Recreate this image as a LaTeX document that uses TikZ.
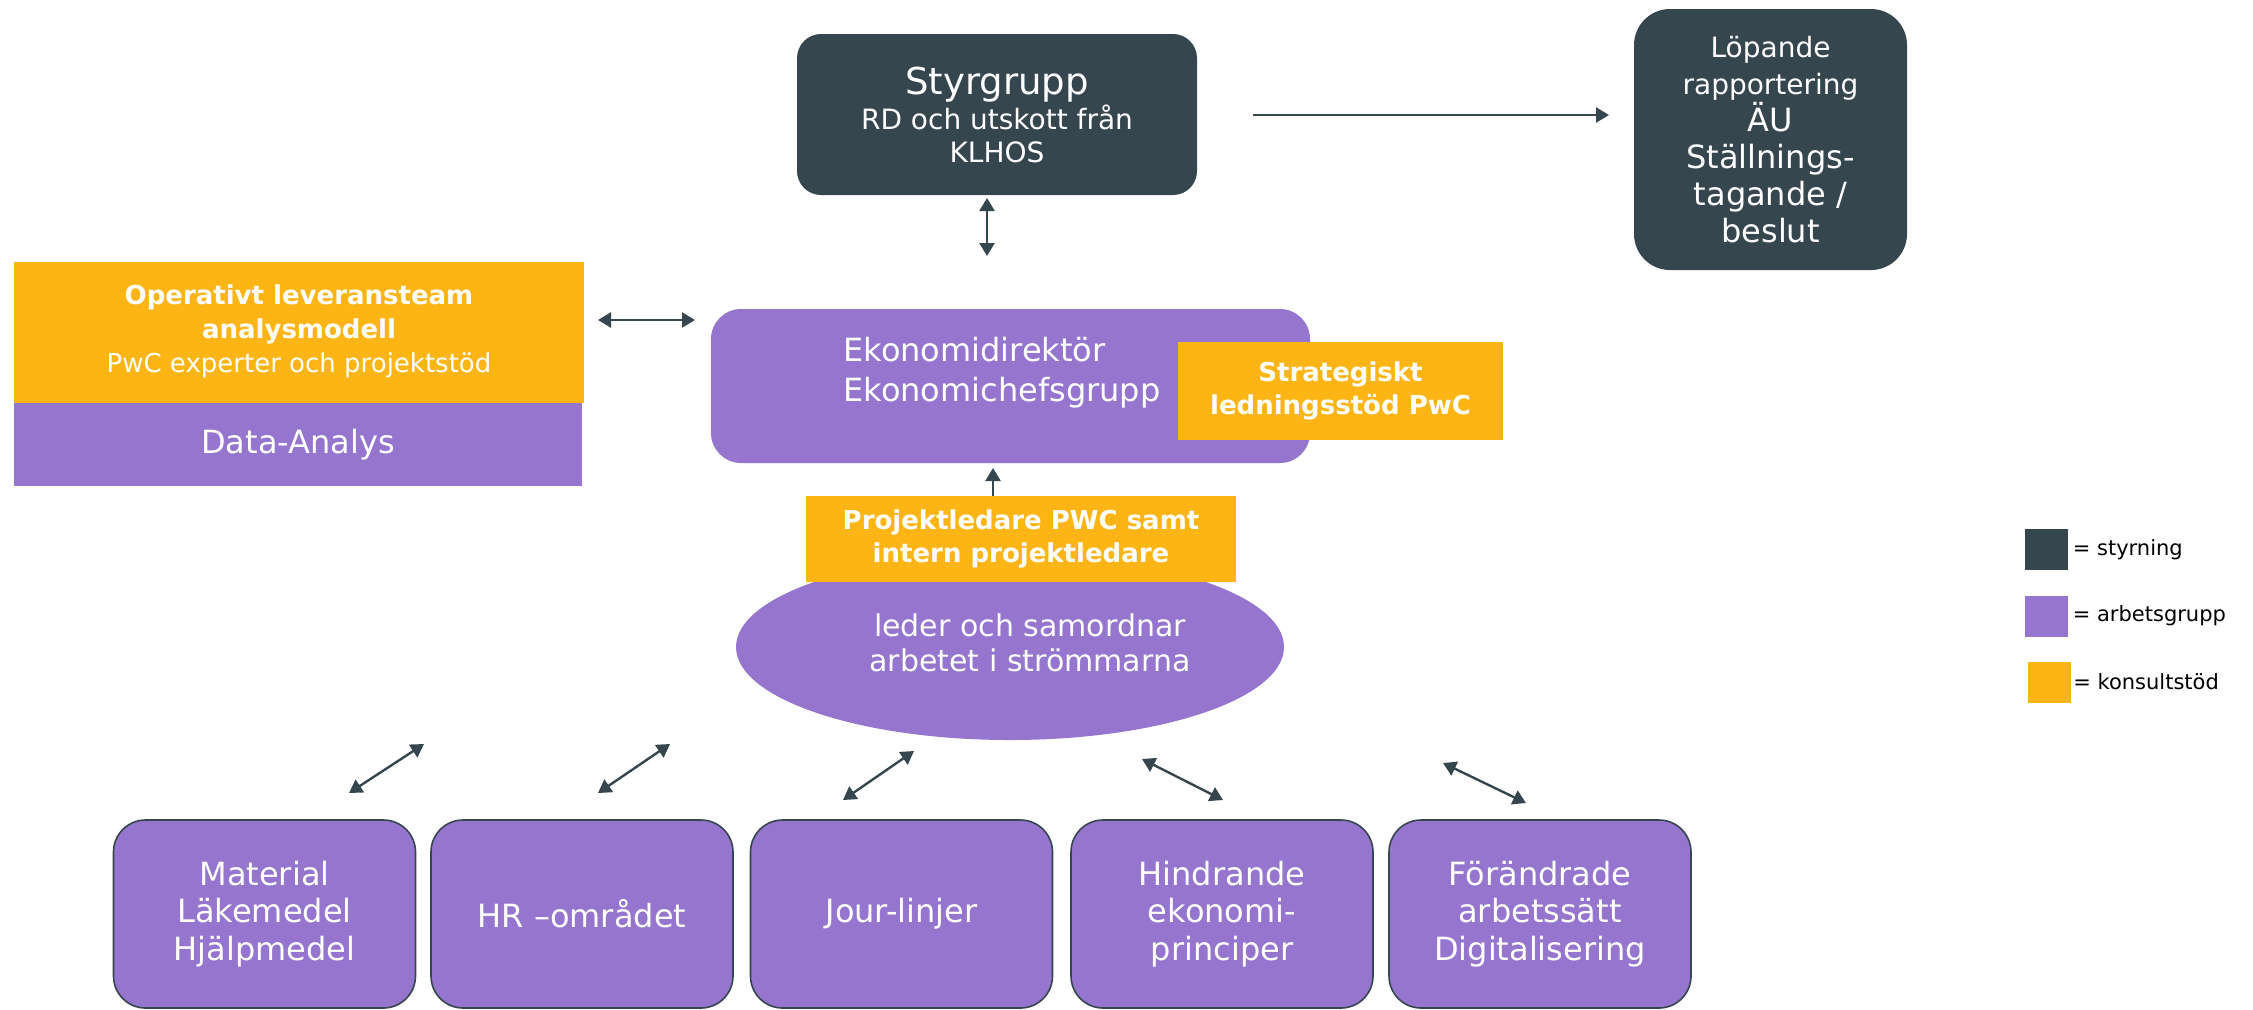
\documentclass[tikz,border=0pt]{standalone}
\usepackage{fontspec}
\setmainfont{DejaVu Sans}
\usetikzlibrary{shapes.geometric, arrows.meta}
\definecolor{styr}{HTML}{36464F}
\definecolor{arb}{HTML}{9575CD}
\definecolor{kons}{HTML}{FDB515}

\begin{document}
\begin{tikzpicture}[>={Triangle[width=7.5pt,length=6.5pt]}, x=0.5pt, y=-0.5pt]
        \tikzset{
            styrbox/.style = {rectangle, fill=styr, text=white, align=center, inner sep=0pt},
            arbbox/.style  = {rectangle, fill=arb, text=white, align=center, inner sep=0pt},
            konsbox/.style = {rectangle, fill=kons, text=white, align=center, inner sep=0pt,
                              font=\fontsize{13}{16.5}\selectfont\bfseries},
            stream/.style  = {arbbox, draw=styr, line width=0.8pt, rounded corners=16pt,
                              minimum width=151pt, minimum height=94pt,
                              font=\fontsize{16}{18.8}\selectfont},
            legbox/.style  = {rectangle, minimum width=21.5pt, minimum height=20.5pt, inner sep=0pt},
            legtxt/.style  = {anchor=west, inner sep=0pt, font=\fontsize{10.5}{12}\selectfont},
            link/.style    = {draw=styr, line width=1.2pt}
        }
        \useasboundingbox (0,0) rectangle (2253,1009);

        \node[styrbox, rounded corners=12pt, minimum width=200pt, minimum height=80.5pt,
              font=\fontsize{14}{16.5}\selectfont] (STYR) at (997,114.5)
              {{\fontsize{18.5}{21}\selectfont Styrgrupp}\\[1pt]RD och utskott från\\KLHOS};
        \node[styrbox, rounded corners=18pt, minimum width=136.5pt, minimum height=130.5pt,
              font=\fontsize{16}{18.5}\selectfont] (LOP) at (1770.5,139.5)
              {{\fontsize{14}{16.5}\selectfont Löpande}\\{\fontsize{14}{16.5}\selectfont rapportering}\\ÄU\\Ställnings-\\tagande /\\beslut};

        \node[konsbox, minimum width=285pt, minimum height=70.5pt,
              font=\fontsize{13}{17}\selectfont\bfseries] (OPER) at (299,332.5)
              {Operativt leveransteam\\analysmodell\\{\mdseries PwC experter och projektstöd}\\[-13pt]};
        \node[arbbox, minimum width=284pt, minimum height=41.5pt,
              font=\fontsize{16}{19}\selectfont] (DATA) at (298,444.5) {Data-Analys};

        \node[arbbox, rounded corners=15pt, minimum width=299.5pt, minimum height=77pt] (EKO) at (1010.5,386) {};
        \node[anchor=west, align=left, text=white, inner sep=0pt,
              font=\fontsize{16}{20}\selectfont] (EKOTXT) at (843,373) {Ekonomidirektör\\Ekonomichefsgrupp};
        \node[konsbox, minimum width=162.5pt, minimum height=49pt] (STRAT) at (1340.5,391)
              {Strategiskt\\ledningsstöd PwC};

        \node[ellipse, fill=arb, minimum width=274pt, minimum height=93pt, inner sep=0pt] (ELL) at (1010,647) {};
        \node[text=white, align=center, inner sep=0pt,
              font=\fontsize{15}{17.5}\selectfont] (ELLTXT) at (1030,643) {leder och samordnar\\arbetet i strömmarna};
        \node[konsbox, minimum width=215pt, minimum height=43pt] (PROJ) at (1021,539)
              {Projektledare PWC samt\\intern projektledare};

        \node[stream] (MAT)  at (264.5,914) {Material\\Läkemedel\\Hjälpmedel};
        \node[stream] (HR)   at (582,914)   {HR –området};
        \node[stream] (JOUR) at (901.5,914) {Jour-linjer};
        \node[stream] (HIND) at (1222,914)  {Hindrande\\ekonomi-\\principer};
        \node[stream] (FOR)  at (1540,914)  {Förändrade\\arbetssätt\\Digitalisering};

        \node[legbox, fill=styr] (LSTYR) at (2046.5,549.5) {};
        \node[legbox, fill=arb]  (LARB)  at (2046.5,616)   {};
        \node[legbox, fill=kons] (LKONS) at (2049,682)     {};
        \node[legtxt] (TSTYR) at ([xshift=2pt]LSTYR.east) {= styrning};
        \node[legtxt] (TARB)  at ([xshift=2pt]LARB.east)  {= arbetsgrupp};
        \node[legtxt] (TKONS) at ([xshift=1pt]LKONS.east) {= konsultstöd};

        \coordinate (S1) at (987,198);  \coordinate (S2) at (987,256);
        \coordinate (R1) at (1253,115); \coordinate (R2) at (1609,115);
        \coordinate (O1) at (598,320);  \coordinate (O2) at (695,320);
        \coordinate (P1) at (993,496);  \coordinate (P2) at (993,468);
        \coordinate (A1) at (349,793);  \coordinate (A2) at (424,744);
        \coordinate (B1) at (598,793);  \coordinate (B2) at (670,744);
        \coordinate (C1) at (843,800);  \coordinate (C2) at (914,751);
        \coordinate (D1) at (1142,759); \coordinate (D2) at (1223,800);
        \coordinate (E1) at (1443,763); \coordinate (E2) at (1526,803);

        \draw[link, <->] (S1) to (S2);
        \draw[link, ->]  (R1) to (R2);
        \draw[link, <->] (O1) to (O2);
        \draw[link, ->]  (P1) to (P2);
        \draw[link, <->] (A1) to (A2);
        \draw[link, <->] (B1) to (B2);
        \draw[link, <->] (C1) to (C2);
        \draw[link, <->] (D1) to (D2);
        \draw[link, <->] (E1) to (E2);
    \end{tikzpicture}
\end{document}
